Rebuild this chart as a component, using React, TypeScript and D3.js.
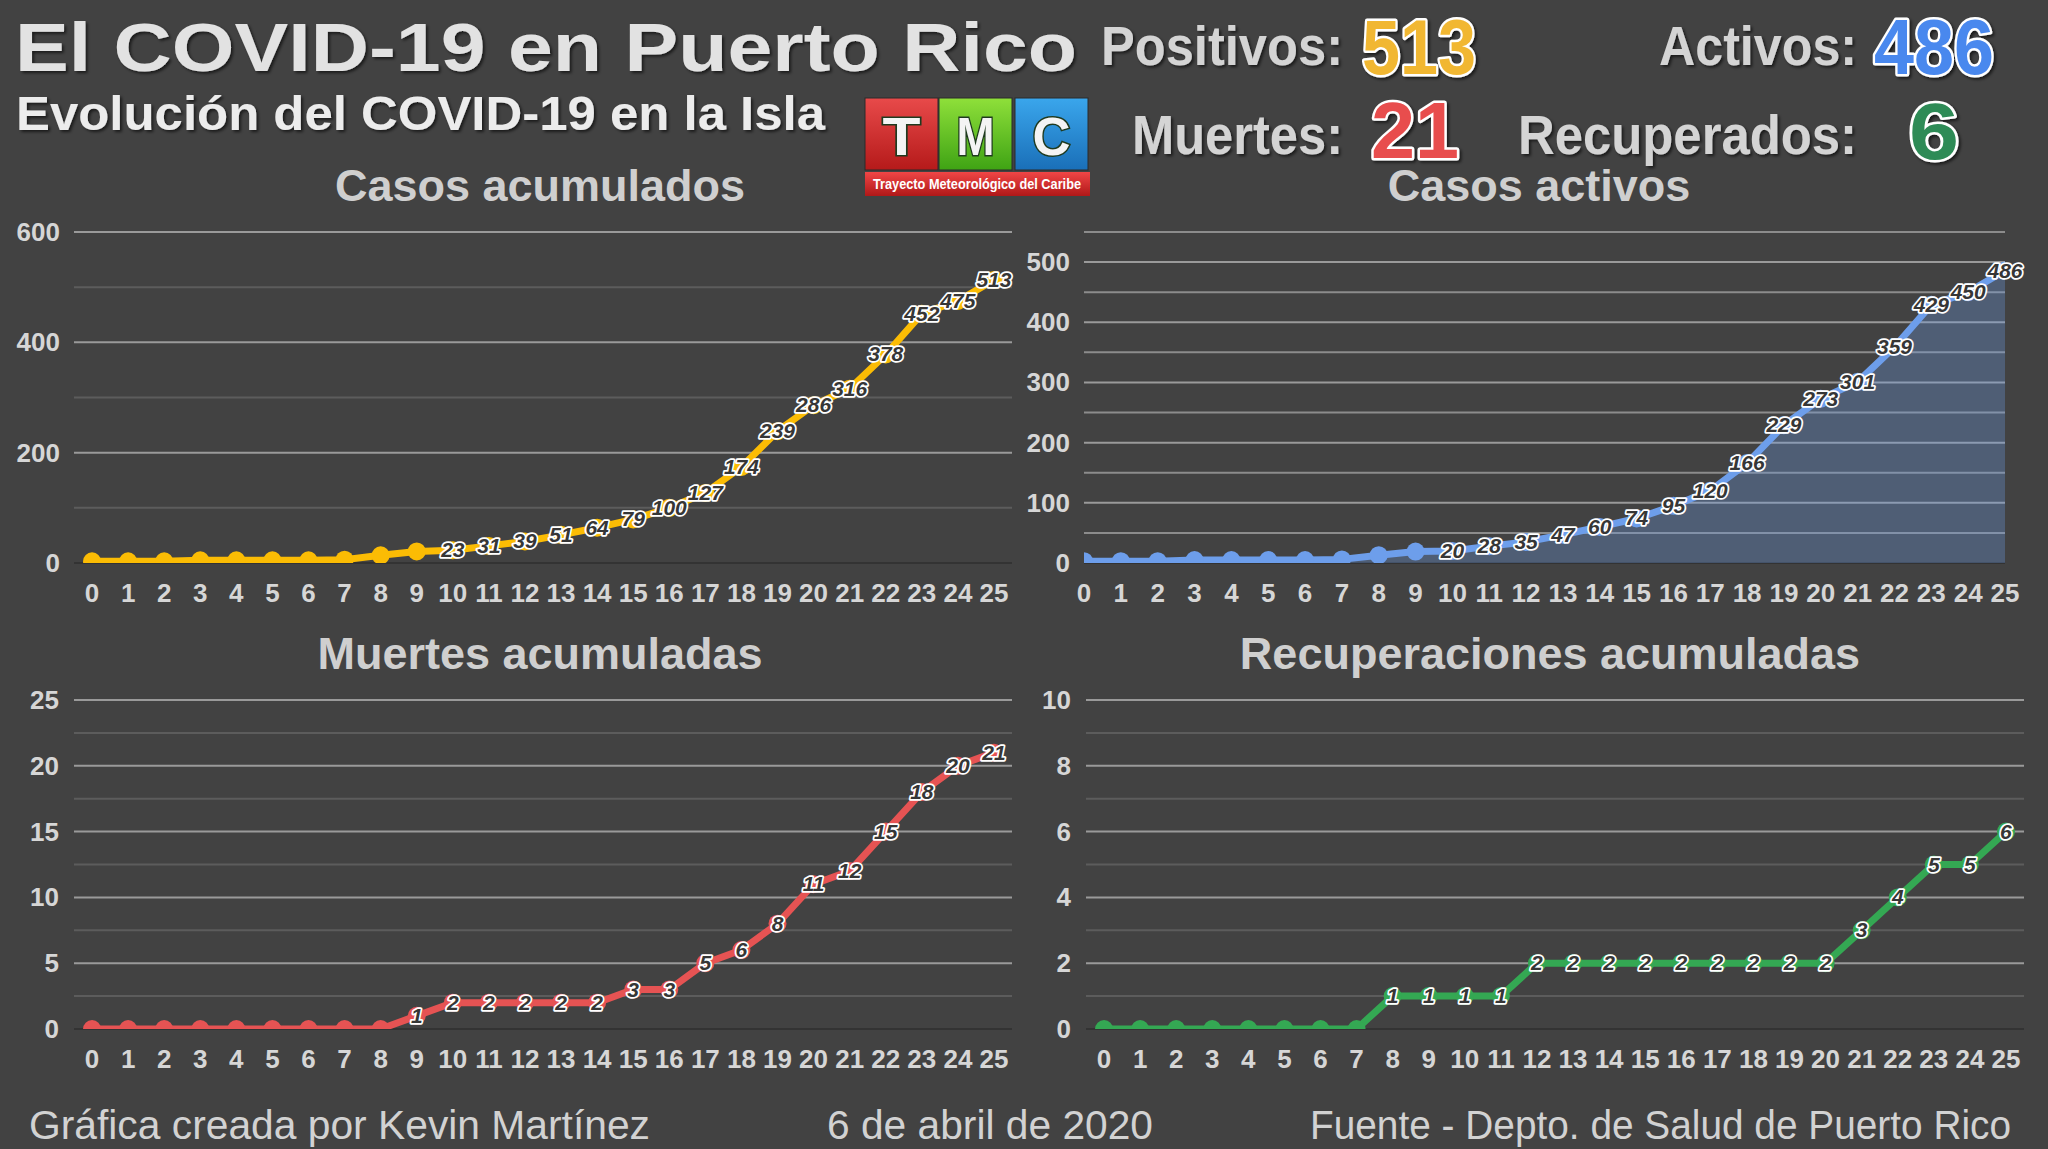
import * as d3 from "d3";
import { useEffect } from "react";

// day index since first case (x axis)
const DAYS = [0, 1, 2, 3, 4, 5, 6, 7, 8, 9, 10, 11, 12, 13, 14, 15, 16, 17, 18, 19, 20, 21, 22, 23, 24, 25];

const CASES = [3, 3, 3, 5, 5, 5, 5, 6, 14, 21, 23, 31, 39, 51, 64, 79, 100, 127, 174, 239, 286, 316, 378, 452, 475, 513];
const ACTIVE = [3, 3, 3, 5, 5, 5, 5, 6, 13, 19, 20, 28, 35, 47, 60, 74, 95, 120, 166, 229, 273, 301, 359, 429, 450, 486];
const DEATHS = [0, 0, 0, 0, 0, 0, 0, 0, 0, 1, 2, 2, 2, 2, 2, 3, 3, 5, 6, 8, 11, 12, 15, 18, 20, 21];
const RECOVERED = [0, 0, 0, 0, 0, 0, 0, 0, 1, 1, 1, 1, 2, 2, 2, 2, 2, 2, 2, 2, 2, 3, 4, 5, 5, 6];

const CASES_TICKS = [0, 200, 400, 600];
const CASES_MINOR = [100, 300, 500];
const ACTIVE_TICKS = [0, 100, 200, 300, 400, 500];
const ACTIVE_MINOR = [50, 150, 250, 350, 450, 550];
const DEATHS_TICKS = [0, 5, 10, 15, 20, 25];
const DEATHS_MINOR = [2.5, 7.5, 12.5, 17.5, 22.5];
const RECOVERED_TICKS = [0, 2, 4, 6, 8, 10];
const RECOVERED_MINOR = [1, 3, 5, 7, 9];

const BG = "#424242";
const TEXT = "#d6d6d6";
const FONT = "'Liberation Sans', Arial, sans-serif";
const NARROW = "'Liberation Sans Narrow', 'Arial Narrow', 'Liberation Sans', Arial, sans-serif";

type Panel = {
    id: string;
    title: string;
    titleX: number;
    titleY: number;
    values: number[];
    color: string;
    ticks: number[];
    minor: number[];
    minorColor: string;
    yMax: number;
    left: number;
    right: number;
    top: number;
    bottom: number;
    padding: number;
    labelRight: number;
    tickY: number;
    labelFrom: number;
    area: boolean;
};

const PANELS: Panel[] = [
    {
        id: "casos", title: "Casos acumulados", titleX: 540, titleY: 201, values: CASES, color: "#fbbc04",
        ticks: CASES_TICKS, minor: CASES_MINOR, minorColor: "#5c5c5c", yMax: 600,
        left: 74, right: 1012, top: 232, bottom: 563, padding: 0.5, labelRight: 60, tickY: 602, labelFrom: 10, area: false,
    },
    {
        id: "activos", title: "Casos activos", titleX: 1539, titleY: 201, values: ACTIVE, color: "#6d9eeb",
        ticks: ACTIVE_TICKS, minor: ACTIVE_MINOR, minorColor: "#8c8c8c", yMax: 550,
        left: 1084, right: 2005, top: 232, bottom: 563, padding: 0, labelRight: 1070, tickY: 602, labelFrom: 10, area: true,
    },
    {
        id: "muertes", title: "Muertes acumuladas", titleX: 540, titleY: 669, values: DEATHS, color: "#e65353",
        ticks: DEATHS_TICKS, minor: DEATHS_MINOR, minorColor: "#5c5c5c", yMax: 25,
        left: 74, right: 1012, top: 700, bottom: 1029, padding: 0.5, labelRight: 59, tickY: 1068, labelFrom: 9, area: false,
    },
    {
        id: "recuperados", title: "Recuperaciones acumuladas", titleX: 1550, titleY: 669, values: RECOVERED, color: "#34a853",
        ticks: RECOVERED_TICKS, minor: RECOVERED_MINOR, minorColor: "#5c5c5c", yMax: 10,
        left: 1086, right: 2024, top: 700, bottom: 1029, padding: 0.5, labelRight: 1071, tickY: 1068, labelFrom: 8, area: false,
    },
];

function ChartPanel({ p }: { p: Panel }) {
    const x = d3.scalePoint<number>().domain(DAYS).range([p.left, p.right]).padding(p.padding);
    const y = d3.scaleLinear().domain([0, p.yMax]).range([p.bottom, p.top]);
    const px = (i: number) => x(DAYS[i]) ?? 0;
    const line = d3.line<number>().x((_, i) => px(i)).y((d) => y(d));
    const area = d3.area<number>().x((_, i) => px(i)).y0(y(0)).y1((d) => y(d));
    const clipId = `clip-${p.id}`;

    return (
        <g>
            <defs>
                <clipPath id={clipId}>
                    <rect x={p.left} y={p.top - 40} width={p.right - p.left} height={y(0) - p.top + 40} />
                </clipPath>
            </defs>
            <text x={p.titleX} y={p.titleY} textAnchor="middle" fontFamily={FONT} fontWeight="bold" fontSize={45} fill="#cfcfcf">
                {p.title}
            </text>
            {p.minor.map((t) => (
                <line key={`m${t}`} x1={p.left} x2={p.right} y1={y(t)} y2={y(t)} stroke={p.minorColor} strokeWidth={2} />
            ))}
            {p.ticks.map((t) => (
                <g key={`t${t}`}>
                    {t > 0 && <line x1={p.left} x2={p.right} y1={y(t)} y2={y(t)} stroke="#9a9a9a" strokeWidth={2} />}
                    <text x={p.labelRight} y={y(t) + 9} textAnchor="end" fontFamily={NARROW} fontWeight="bold" fontSize={26} fill={TEXT}>
                        {t}
                    </text>
                </g>
            ))}
            <line x1={p.left} x2={p.right} y1={y(0)} y2={y(0)} stroke="#333" strokeWidth={2} />
            <g clipPath={`url(#${clipId})`}>
                {p.area && <path d={area(p.values) ?? ""} fill={p.color} fillOpacity={0.3} />}
                <path d={line(p.values) ?? ""} fill="none" stroke={p.color} strokeWidth={7} strokeLinejoin="round" />
                {p.values.map((v, i) => (
                    <circle key={i} cx={px(i)} cy={y(v)} r={9} fill={p.color} />
                ))}
            </g>
            {p.values.map((v, i) =>
                i < p.labelFrom ? null : (
                    <text
                        key={`l${i}`}
                        x={px(i)}
                        y={y(v) + 7}
                        textAnchor="middle"
                        fontFamily={FONT}
                        fontStyle="italic"
                        fontWeight="bold"
                        fontSize={21}
                        fill="#363636"
                        stroke="#ffffff"
                        strokeWidth={3.5}
                        strokeLinejoin="round"
                        paintOrder="stroke"
                    >
                        {v}
                    </text>
                )
            )}
            {DAYS.map((d) => (
                <text key={`x${d}`} x={x(d)} y={p.tickY} textAnchor="middle" fontFamily={NARROW} fontWeight="bold" fontSize={26} fill={TEXT}>
                    {d}
                </text>
            ))}
        </g>
    );
}

function Stat({ label, value, color, labelX, labelW, valueX, valueW, y, vy, vSize }: {
    label: string; value: number; color: string; labelX: number; labelW: number;
    valueX: number; valueW: number; y: number; vy: number; vSize: number;
}) {
    return (
        <g>
            <text x={labelX} y={y} fontFamily={FONT} fontWeight="bold" fontSize={56} fill="#d4d4d4"
                textLength={labelW} lengthAdjust="spacingAndGlyphs" filter="url(#shadow)">
                {label}
            </text>
            <text x={valueX} y={vy} fontFamily={FONT} fontWeight="bold" fontSize={vSize} fill={color}
                stroke="#ffffff" strokeWidth={5} strokeLinejoin="round" paintOrder="stroke"
                textLength={valueW} lengthAdjust="spacingAndGlyphs" filter="url(#shadow)">
                {value}
            </text>
        </g>
    );
}

function Logo() {
    const boxes = [
        { ch: "T", x: 865, top: "#e84a4a", bottom: "#b51a1a" },
        { ch: "M", x: 939, top: "#8fe03a", bottom: "#3fa314" },
        { ch: "C", x: 1015, top: "#3aa6ec", bottom: "#1a6fb8" },
    ];
    return (
        <g>
            <defs>
                {boxes.map((b) => (
                    <linearGradient key={b.ch} id={`g${b.ch}`} x1="0" y1="0" x2="0" y2="1">
                        <stop offset="0" stopColor={b.top} />
                        <stop offset="1" stopColor={b.bottom} />
                    </linearGradient>
                ))}
                <linearGradient id="gBanner" x1="0" y1="0" x2="0" y2="1">
                    <stop offset="0" stopColor="#f04646" />
                    <stop offset="1" stopColor="#b01818" />
                </linearGradient>
            </defs>
            {boxes.map((b) => (
                <g key={b.ch}>
                    <rect x={b.x} y={98} width={73} height={72} fill={`url(#g${b.ch})`} stroke="#2a2a2a" strokeWidth={1} />
                    <text x={b.x + 36.5} y={155} textAnchor="middle" fontFamily={FONT} fontWeight="bold" fontSize={54}
                        fill="#f4f4f4" stroke="#1f3a1f" strokeWidth={3} paintOrder="stroke" textLength={38} lengthAdjust="spacingAndGlyphs">
                        {b.ch}
                    </text>
                </g>
            ))}
            <rect x={865} y={172} width={225} height={24} fill="url(#gBanner)" />
            <text x={977} y={189} textAnchor="middle" fontFamily={FONT} fontWeight="bold" fontSize={14} fill="#ffffff"
                textLength={208} lengthAdjust="spacingAndGlyphs">
                Trayecto Meteorológico del Caribe
            </text>
        </g>
    );
}

export default function App() {
    useEffect(() => {
        document.body.style.margin = "0";
        document.body.style.background = BG;
    }, []);

    return (
        <svg width={2048} height={1149} viewBox="0 0 2048 1149" style={{ display: "block", background: BG }}>
            <defs>
                <filter id="shadow" x="-10%" y="-20%" width="130%" height="150%">
                    <feDropShadow dx="2" dy="2" stdDeviation="1.5" floodColor="#000" floodOpacity="0.6" />
                </filter>
            </defs>
            <rect width={2048} height={1149} fill={BG} />
            <text x={15} y={71} fontFamily={FONT} fontWeight="bold" fontSize={68} fill="#e2e2e2"
                textLength={1062} lengthAdjust="spacingAndGlyphs" filter="url(#shadow)">
                El COVID-19 en Puerto Rico
            </text>
            <text x={16} y={130} fontFamily={FONT} fontWeight="bold" fontSize={48} fill="#ececec"
                textLength={809} lengthAdjust="spacingAndGlyphs" filter="url(#shadow)">
                Evolución del COVID-19 en la Isla
            </text>
            <Logo />
            <Stat label="Positivos:" value={CASES[CASES.length - 1]} color="#f1b733" labelX={1101} labelW={242} valueX={1362} valueW={114} y={65} vy={74} vSize={78} />
            <Stat label="Activos:" value={ACTIVE[ACTIVE.length - 1]} color="#4a88ee" labelX={1659} labelW={198} valueX={1874} valueW={120} y={65} vy={74} vSize={78} />
            <Stat label="Muertes:" value={DEATHS[DEATHS.length - 1]} color="#e84e4e" labelX={1132} labelW={211} valueX={1371} valueW={88} y={154} vy={158} vSize={80} />
            <Stat label="Recuperados:" value={RECOVERED[RECOVERED.length - 1]} color="#2e8b57" labelX={1518} labelW={339} valueX={1909} valueW={50} y={154} vy={159} vSize={80} />
            {PANELS.map((p) => (
                <ChartPanel key={p.id} p={p} />
            ))}
            <text x={29} y={1139} fontFamily={NARROW} fontSize={40} fill="#d2d2d2" textLength={621} lengthAdjust="spacingAndGlyphs">
                Gráfica creada por Kevin Martínez
            </text>
            <text x={827} y={1139} fontFamily={NARROW} fontSize={40} fill="#d2d2d2" textLength={326} lengthAdjust="spacingAndGlyphs">
                6 de abril de 2020
            </text>
            <text x={1310} y={1139} fontFamily={NARROW} fontSize={40} fill="#d2d2d2" textLength={701} lengthAdjust="spacingAndGlyphs">
                Fuente - Depto. de Salud de Puerto Rico
            </text>
        </svg>
    );
}
